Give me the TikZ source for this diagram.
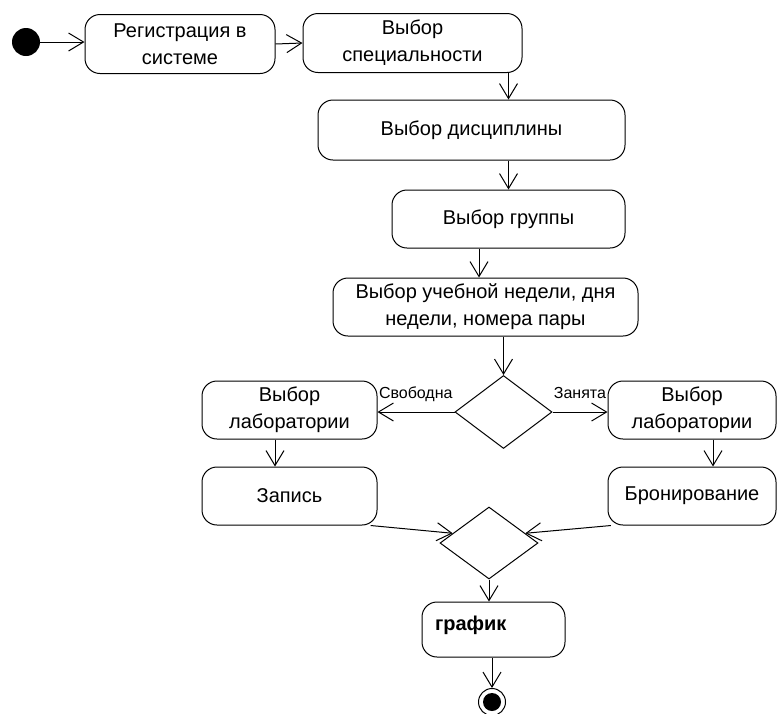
\documentclass[tikz,border=0pt]{standalone}
\usepackage{fontspec}
\setmainfont{Liberation Sans}
\usepackage{tikz}
\usetikzlibrary{arrows.meta,shapes.geometric,positioning}
\tikzstyle{action} = [rectangle, rounded corners=15pt, draw, inner sep=0pt, align=center, line width=1pt, font=\fontsize{20}{27}\selectfont]
\tikzstyle{choice} = [diamond, draw, inner sep=0pt, line width=1pt]
\tikzstyle{arrow} = [line width=1pt, -{Straight Barb[length=15pt,width=18pt]}]
\tikzstyle{guard} = [font=\fontsize{16}{18}\selectfont, inner sep=1pt, text height=12pt, text depth=4pt]

\begin{document}
\begin{tikzpicture}[x=1pt, y=-1pt]
\useasboundingbox (0,0) rectangle (778,713);

% Start
\node[circle, fill=black, minimum size=28pt, inner sep=0pt] (start) at (26,42) {};
\node[action, minimum width=190pt, minimum height=59pt] (reg) at (180,44) {Регистрация в\\системе};
\node[action, minimum width=219pt, minimum height=59pt] (spec) at (412.5,43) {Выбор\\специальности};
\draw[arrow] (start.east) -- (start.east -| reg.west);
\draw[arrow] (reg.east) -- (spec.west);

% Choices
\node[action, minimum width=307pt, minimum height=60pt] (disc) at (471.5,130) {Выбор дисциплины};
\node[action, minimum width=233pt, minimum height=58pt] (group) at (508.5,219) {Выбор группы};
\node[action, minimum width=305pt, minimum height=58pt] (week) at (485.5,307) {Выбор учебной недели, дня\\недели, номера пары};
\draw[arrow] (spec.south -| group.north) -- (disc.north -| group.north);
\draw[arrow] (disc.south -| group.north) -- (group.north);
\draw[arrow] ([xshift=-29.5pt]group.south) -- ([xshift=-29.5pt]group.south |- week.north);

% Decision
\node[choice, minimum width=97pt, minimum height=73pt] (dec) at (503.5,412) {};
\draw[arrow] (week.south -| dec.north) -- (dec.north);
\node[action, minimum width=175pt, minimum height=58pt] (labL) at (289.5,410) {Выбор\\лаборатории};
\node[action, minimum width=168pt, minimum height=58pt] (labR) at (692,410) {Выбор\\лаборатории};
\draw[arrow] (dec.west) -- (dec.west -| labL.east) node[guard, pos=1, anchor=south west, yshift=8pt] (free) {Свободна};
\draw[arrow] (dec.east) -- (dec.east -| labR.west) node[guard, pos=1, anchor=south east, yshift=8pt] (busy) {Занята};

% Record / booking
\node[action, minimum width=175pt, minimum height=58pt] (zap) at (289.5,496) {Запись};
\node[action, minimum width=168pt, minimum height=58pt] (bron) at (692,496) {Бронирование};
\draw[arrow] ([xshift=-14.5pt]labL.south) -- ([xshift=-14.5pt]zap.north);
\draw[arrow] ([xshift=21pt]labR.south) -- ([xshift=21pt]bron.north);

% Merge
\node[choice, minimum width=98pt, minimum height=72pt] (merge) at (489,543) {};
\draw[arrow] (zap.-20) -- (merge.165);
\draw[arrow] (bron.-160) -- (merge.15);

% End
\node[action, minimum width=143pt, minimum height=55pt, align=left, text width=117pt, text height=14pt, text depth=13pt] (graph) at (493.5,629.5) {\textbf{график}};
\node[circle, draw, line width=1pt, minimum size=27pt, inner sep=0pt] (finish) at (492,702) {};
\node[circle, fill=black, minimum size=18pt, inner sep=0pt] (finishdot) at (finish) {};
\draw[arrow] (merge.south) -- (merge.south |- graph.north);
\draw[arrow] (graph.south -| finish.north) -- (finish.north);
\end{tikzpicture}
\end{document}
